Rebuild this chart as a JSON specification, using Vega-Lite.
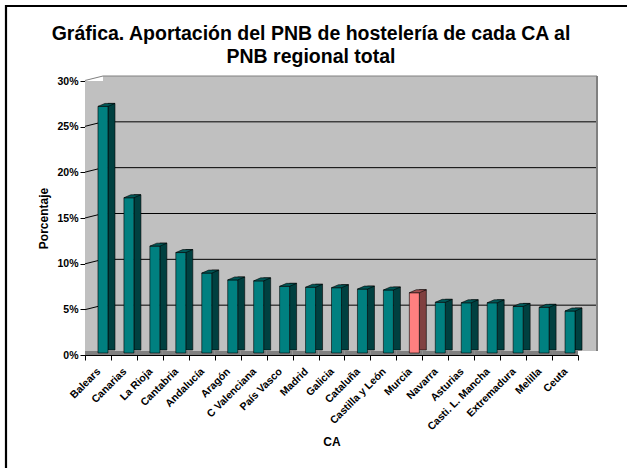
{
  "$schema": "https://vega.github.io/schema/vega-lite/v6.json",
  "width": 650,
  "height": 480,
  "autosize": {"type": "none"},
  "padding": {"left": 6, "top": 6, "right": -29, "bottom": -18},
  "background": "white",
  "config": {
    "view": {"stroke": "black", "strokeWidth": 2.2},
    "font": "Liberation Sans",
    "axis": {
      "labelFont": "Liberation Sans", "titleFont": "Liberation Sans",
      "labelColor": "black", "titleColor": "black",
      "labelFontWeight": "bold", "titleFontWeight": "bold",
      "tickColor": "black", "domainColor": "black"
    }
  },
  "title": {
    "text": ["Gráfica. Aportación del PNB de hostelería de cada CA al", "PNB regional total"],
    "font": "Liberation Sans", "fontSize": 19.5, "fontWeight": "bold", "color": "black",
    "anchor": "middle", "frame": "group", "baseline": "top", "offset": -61, "lineHeight": 23, "dx": -20
  },
  "datasets": {
    "cc": [
      {"CA": "Balears", "v": 0.270},
      {"CA": "Canarias", "v": 0.170},
      {"CA": "La Rioja", "v": 0.117},
      {"CA": "Cantabria", "v": 0.110},
      {"CA": "Andalucía", "v": 0.0875},
      {"CA": "Aragón", "v": 0.080},
      {"CA": "C Valenciana", "v": 0.079},
      {"CA": "País Vasco", "v": 0.073},
      {"CA": "Madrid", "v": 0.072},
      {"CA": "Galicia", "v": 0.0715},
      {"CA": "Cataluña", "v": 0.070},
      {"CA": "Castilla y León", "v": 0.069},
      {"CA": "Murcia", "v": 0.066},
      {"CA": "Navarra", "v": 0.0555},
      {"CA": "Asturias", "v": 0.055},
      {"CA": "Casti. L. Mancha", "v": 0.055},
      {"CA": "Extremadura", "v": 0.051},
      {"CA": "Melilla", "v": 0.050},
      {"CA": "Ceuta", "v": 0.046}
    ],
    "grid": [{"g": 0.05}, {"g": 0.10}, {"g": 0.15}, {"g": 0.20}, {"g": 0.25}, {"g": 0.30}]
  },
  "resolve": {
    "scale": {"x": "independent", "y": "independent"},
    "axis": {"x": "independent", "y": "independent"}
  },
  "layer": [
    {
      "data": {"name": "cc"},
      "mark": {"type": "rect", "fill": "#C0C0C0"},
      "encoding": {
        "x": {"field": "CA", "type": "nominal", "sort": null, "axis": null,
              "scale": {"range": [79, 572], "paddingInner": 0, "paddingOuter": 0}},
        "y": {"datum": 0.3, "type": "quantitative", "axis": null,
              "scale": {"domain": [0, 0.3], "range": [349, 75]}},
        "y2": {"datum": 0}
      }
    },
    {
      "data": {"name": "grid"},
      "layer": [
        {
          "mark": {"type": "rect", "fill": "#C0C0C0"},
          "encoding": {
            "x": {"datum": 0, "type": "quantitative", "axis": null,
                  "scale": {"domain": [0, 1], "range": [97, 591]}},
            "x2": {"datum": 1},
            "y": {"datum": 0, "type": "quantitative", "axis": null,
                  "scale": {"domain": [0, 0.3], "range": [345, 70]}},
            "y2": {"datum": 0.3}
          }
        },
        {
          "mark": {"type": "rule", "strokeWidth": 1},
          "encoding": {
            "x": {"datum": 0, "type": "quantitative", "axis": null},
            "x2": {"datum": 1},
            "y": {"field": "g", "type": "quantitative", "axis": null},
            "stroke": {"condition": {"test": "datum.g > 0.29", "value": "#808080"}, "value": "black"}
          }
        },
        {
          "mark": {"type": "rule", "strokeWidth": 1, "yOffset": 4.5},
          "encoding": {
            "x": {"datum": -0.0365, "type": "quantitative", "axis": null},
            "x2": {"datum": 0},
            "y": {"field": "g", "type": "quantitative", "axis": null},
            "y2": {"field": "g"},
            "stroke": {"condition": {"test": "datum.g > 0.29", "value": "#808080"}, "value": "black"}
          }
        },
        {
          "mark": {"type": "rule", "stroke": "#808080", "strokeWidth": 1.5},
          "encoding": {
            "x": {"datum": 1, "type": "quantitative", "axis": null},
            "y": {"datum": 0, "type": "quantitative", "axis": null},
            "y2": {"datum": 0.3}
          }
        }
      ]
    },
    {
      "data": {"name": "cc"},
      "encoding": {
        "x": {
          "field": "CA", "type": "nominal", "sort": null,
          "scale": {"range": [79, 572], "paddingInner": 0, "paddingOuter": 0},
          "axis": {
            "orient": "bottom", "offset": -131, "tickBand": "extent",
            "labelAngle": -45, "labelFontSize": 10.5, "tickSize": 5, "labelPadding": 6, "labelOffset": -3,
            "title": "CA", "titleFontSize": 12, "titlePadding": 4
          }
        },
        "y": {
          "field": "v", "type": "quantitative",
          "scale": {"domain": [0, 0.3], "range": [349, 75]},
          "axis": {
            "orient": "left", "offset": -79, "grid": false,
            "values": [0, 0.05, 0.1, 0.15, 0.2, 0.25, 0.3], "format": ".0%",
            "labelFontSize": 10.5, "tickSize": 5, "labelPadding": 2,
            "title": "Porcentaje", "titleFontSize": 12, "titlePadding": 6
          }
        }
      },
      "layer": [
        {
          "mark": {"type": "rect", "fill": "#808080", "y2Offset": -4},
          "encoding": {
            "y": {"datum": 0, "type": "quantitative"},
            "y2": {"datum": 0}
          }
        },
        {
          "mark": {"type": "bar", "width": {"band": 0.27}, "xOffset": 13.5, "yOffset": -5, "y2Offset": -2,
                   "stroke": "black", "strokeWidth": 0.6},
          "encoding": {
            "fill": {"condition": {"test": "datum.CA === 'Murcia'", "value": "#804040"}, "value": "#004040"}
          }
        },
        {
          "mark": {"type": "bar", "width": {"band": 0.385}, "xOffset": 5, "yOffset": -2, "y2Offset": -2,
                   "stroke": "black", "strokeWidth": 0.6},
          "encoding": {
            "fill": {"condition": {"test": "datum.CA === 'Murcia'", "value": "#FF8080"}, "value": "#008080"}
          }
        },
        {
          "mark": {"type": "point", "shape": "M-1,0L0.18,0L1,-0.35L-0.18,-0.35Z", "size": 289,
                   "filled": true, "opacity": 1, "xOffset": 8.5, "yOffset": -2,
                   "stroke": "black", "strokeWidth": 0.6},
          "encoding": {
            "fill": {"condition": {"test": "datum.CA === 'Murcia'", "value": "#A05050"}, "value": "#005858"}
          }
        }
      ]
    }
  ]
}
